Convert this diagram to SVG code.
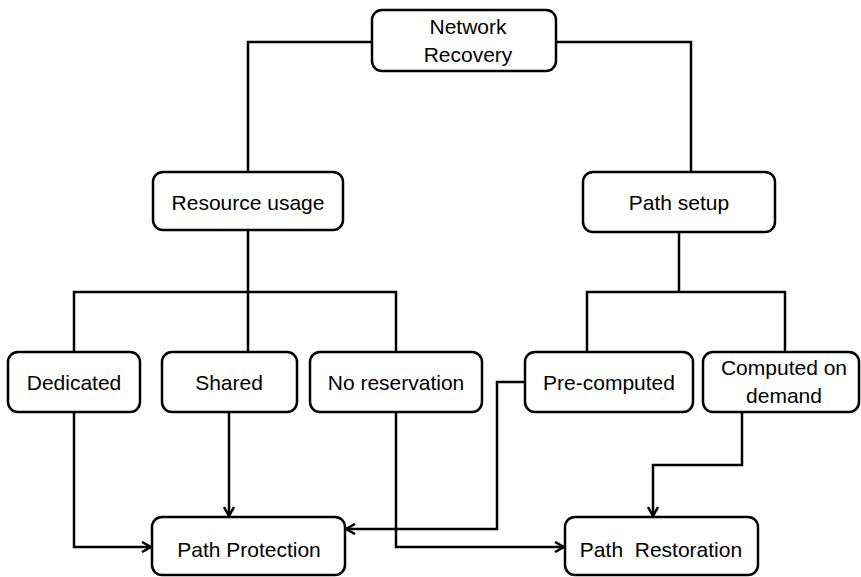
<svg xmlns="http://www.w3.org/2000/svg" width="861" height="577" viewBox="0 0 861 577">
  <style>
    .box { fill: #ffffff; stroke: #000000; stroke-width: 2.5; }
    .lbl { font-family: "Liberation Sans", Arial, sans-serif; font-size: 21px; fill: #000000; text-anchor: middle; }
    .wire { fill: none; stroke: #000000; stroke-width: 2.5; }
  </style>
  <defs>
    <marker id="chev" viewBox="0 0 12 12" refX="11" refY="6" markerWidth="12" markerHeight="12" markerUnits="userSpaceOnUse" orient="auto">
      <path d="M2,1 L11,6 L2,11" fill="none" stroke="#000000" stroke-width="2.5"/>
    </marker>
  </defs>
  <rect width="861" height="577" fill="#ffffff"/>

  <g id="connectors">
    <!-- tree edges -->
    <path class="wire" d="M372,42 H248 V172"/>
    <path class="wire" d="M556,42 H691 V172"/>
    <path class="wire" d="M248,230 V293"/>
    <path class="wire" d="M74,352 V292 H396 V352"/>
    <path class="wire" d="M248,292 V352"/>
    <path class="wire" d="M679,232 V292"/>
    <path class="wire" d="M587,352 V292 H785 V352"/>
    <!-- arrows to recovery schemes -->
    <path class="wire" d="M74,412 V547 H151" marker-end="url(#chev)"/>
    <path class="wire" d="M229,412 V516" marker-end="url(#chev)"/>
    <path class="wire" d="M396,412 V547 H564" marker-end="url(#chev)"/>
    <path class="wire" d="M525,382 H497 V529 H346" marker-end="url(#chev)"/>
    <path class="wire" d="M742,412 V465 H653 V516" marker-end="url(#chev)"/>
  </g>

  <g id="network-recovery">
    <rect class="box" x="372" y="10" width="184" height="61" rx="10"/>
    <text class="lbl" x="468" y="34">Network</text>
    <text class="lbl" x="468" y="62">Recovery</text>
  </g>
  <g id="resource-usage">
    <rect class="box" x="153" y="172" width="190" height="58" rx="10"/>
    <text class="lbl" x="248" y="210">Resource usage</text>
  </g>
  <g id="path-setup">
    <rect class="box" x="583" y="172" width="192" height="60" rx="10"/>
    <text class="lbl" x="679" y="210">Path setup</text>
  </g>
  <g id="dedicated">
    <rect class="box" x="8" y="352" width="132" height="60" rx="10"/>
    <text class="lbl" x="74" y="390">Dedicated</text>
  </g>
  <g id="shared">
    <rect class="box" x="162" y="352" width="135" height="60" rx="10"/>
    <text class="lbl" x="229" y="390">Shared</text>
  </g>
  <g id="no-reservation">
    <rect class="box" x="310" y="352" width="172" height="60" rx="10"/>
    <text class="lbl" x="396" y="390">No reservation</text>
  </g>
  <g id="pre-computed">
    <rect class="box" x="525" y="352" width="168" height="60" rx="10"/>
    <text class="lbl" x="609" y="390">Pre-computed</text>
  </g>
  <g id="computed-on-demand">
    <rect class="box" x="703" y="352" width="156" height="60" rx="10"/>
    <text class="lbl" x="784" y="375">Computed on</text>
    <text class="lbl" x="784" y="403">demand</text>
  </g>
  <g id="path-protection">
    <rect class="box" x="152" y="517" width="193" height="58" rx="10"/>
    <text class="lbl" x="249" y="557">Path Protection</text>
  </g>
  <g id="path-restoration">
    <rect class="box" x="565" y="517" width="193" height="58" rx="10"/>
    <text class="lbl" x="661" y="557" xml:space="preserve">Path  Restoration</text>
  </g>
</svg>
